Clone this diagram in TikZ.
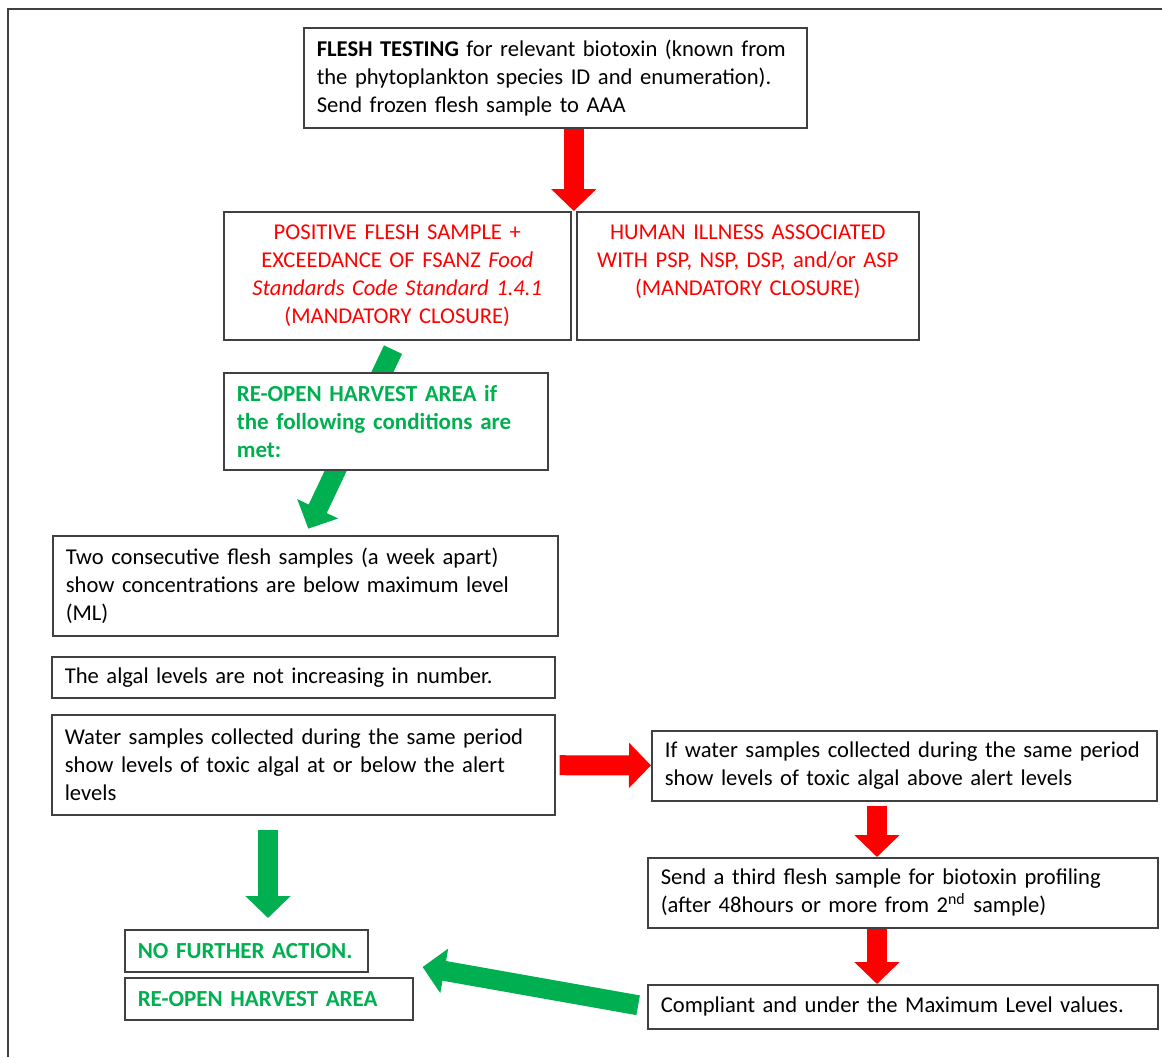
\documentclass[tikz,border=0pt]{standalone}
\usepackage{fontspec}
\setmainfont{Carlito}
\usetikzlibrary{arrows.meta,calc,backgrounds}
\definecolor{alertred}{HTML}{FF0000}
\definecolor{okgreen}{HTML}{00B050}
\definecolor{boxgray}{HTML}{404040}
\tikzset{
box/.style={draw=boxgray,line width=0.8pt,fill=white,anchor=north west,inner xsep=6.5pt,inner ysep=0pt,align=left,font=\fontsize{11.3}{14}\selectfont},
redbox/.style={box,align=center,text=alertred},
greenbox/.style={box,text=okgreen,font=\fontsize{11.5}{14}\selectfont\bfseries},
fat/.style={line width=10pt,-{Triangle[length=11pt,width=22pt]}},
redarrow/.style={fat,draw=alertred},
greenarrow/.style={fat,draw=okgreen}
}
\begin{document}
\begin{tikzpicture}[x=0.5pt,y=-0.5pt]
\useasboundingbox (0,0) rectangle (1162,1057);
\draw[boxgray,line width=0.75pt] (1162,9) -| (8,1057);
\node[box,text width=238.5pt,minimum height=50pt] (flesh) at (303,27) {\mbox{\textbf{FLESH TESTING} for relevant biotoxin (known from}\\the phytoplankton species ID and enumeration).\\Send frozen flesh sample to AAA};
\node[redbox,text width=160.5pt,minimum height=64pt] (positive) at (223,211) {POSITIVE FLESH SAMPLE +\\EXCEEDANCE OF FSANZ \textit{Food}\\\textit{Standards Code Standard 1.4.1}\\(MANDATORY CLOSURE)};
\node[redbox,text width=158pt,minimum height=64pt] (illness) at (576,211) {HUMAN ILLNESS ASSOCIATED\\WITH PSP, NSP, DSP, and/or ASP\\(MANDATORY CLOSURE)\\\phantom{(MANDATORY CLOSURE)}};
\node[greenbox,text width=149pt,minimum height=48.5pt] (reopenif) at (223,372) {RE-OPEN HARVEST AREA if\\the following conditions are\\met:};
\node[box,text width=239.5pt,minimum height=50pt] (twoflesh) at (52,535) {Two consecutive flesh samples (a week apart)\\show concentrations are below maximum level\\(ML)};
\node[box,text width=238.5pt,minimum height=20.5pt] (algal) at (51,656) {The algal levels are not increasing in number.};
\node[box,text width=238.5pt,minimum height=50pt] (water) at (51,714) {Water samples collected during the same period\\show levels of toxic algal at or below the alert\\levels};
\node[box,text width=239.5pt,minimum height=35pt] (abovealert) at (651,730) {\mbox{If water samples collected during the same period}\\show levels of toxic algal above alert levels};
\node[box,text width=242pt,minimum height=35pt] (third) at (647,857) {Send a third flesh sample for biotoxin profiling\\(after 48hours or more from 2\textsuperscript{nd} sample)};
\node[box,text width=242pt,minimum height=22pt] (compliant) at (647,984) {Compliant and under the Maximum Level values.};
\node[greenbox,text width=108.5pt,minimum height=21pt] (nofurther) at (124,929) {NO FURTHER ACTION.};
\node[greenbox,text width=131pt,minimum height=21pt] (reopen) at (124,977) {RE-OPEN HARVEST AREA};
\coordinate (split) at ($(positive.north east)!0.5!(illness.north west)$);
\coordinate (redcol) at (877,800);
\coordinate (greencol) at (268,820);
\coordinate (backtip) at ([shift={(9,-10)}]reopen.north east);
\draw[redarrow] (flesh.south -| split) -- (split);
\draw[redarrow,shorten <=2pt] (water) -- (abovealert);
\draw[redarrow,shorten <=2pt] (abovealert.south -| redcol) -- (third.north -| redcol);
\draw[redarrow] (third.south -| redcol) -- (compliant.north -| redcol);
\draw[greenarrow,shorten <=7pt,shorten >=5.5pt] (water.south -| greencol) -- (nofurther.north -| greencol);
\draw[greenarrow,shorten <=4.5pt] (compliant.west) -- (backtip);
\begin{scope}[on background layer]
\draw[greenarrow,shorten <=5pt,shorten >=3.5pt] (positive.south) -- (twoflesh.north);
\end{scope}
\end{tikzpicture}
\end{document}
